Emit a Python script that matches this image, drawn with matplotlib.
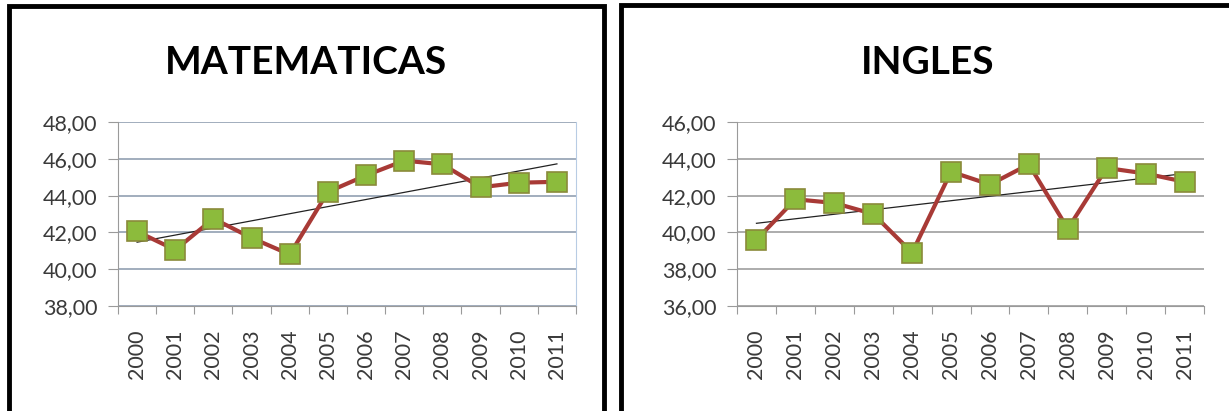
import numpy as np
import matplotlib
matplotlib.use('Agg')
import matplotlib.pyplot as plt
from matplotlib.patches import Rectangle

# данные
anios = ['2000', '2001', '2002', '2003', '2004', '2005',
         '2006', '2007', '2008', '2009', '2010', '2011']
matematicas = [42.05, 41.05, 42.75, 41.7, 40.8, 44.2,
               45.1, 45.9, 45.7, 44.45, 44.7, 44.75]
ingles = [39.6, 41.8, 41.6, 41.0, 38.9, 43.3,
          42.6, 43.7, 40.2, 43.5, 43.2, 42.75]

titulos = ['MATEMATICAS', 'INGLES']
ylims = [(38, 48), (36, 46)]

plt.rcParams['font.family'] = ['Lato', 'DejaVu Sans']

W, H = 1229, 411
fig = plt.figure(figsize=(W / 100, H / 100), dpi=100)


def fx(px):
    return px / W


def fy(py):
    return 1 - py / H


# рамки панелей
fig.patches.append(Rectangle((fx(9), fy(420)), fx(604 - 9), (420 - 6) / H,
                             transform=fig.transFigure, fill=False,
                             edgecolor='black', linewidth=3.5))
fig.patches.append(Rectangle((fx(621), fy(420)), fx(1240 - 621), (420 - 5) / H,
                             transform=fig.transFigure, fill=False,
                             edgecolor='black', linewidth=3.5))

ax1 = fig.add_axes([fx(118), fy(306), fx(576 - 118), (306 - 122) / H])
ax2 = fig.add_axes([fx(737), fy(306), fx(1204 - 737), (306 - 122) / H])

colores_grid = ['#9aa7b8', '#a6a6a6']
x = np.arange(len(anios))

for ax, datos, titulo, ylim, cg in zip([ax1, ax2], [matematicas, ingles],
                                       titulos, ylims, colores_grid):
    ax.set_xlim(-0.5, len(anios) - 0.5)
    ax.set_ylim(*ylim)
    yt = np.arange(ylim[0], ylim[1] + 0.1, 2)
    ax.set_yticks(yt)
    ax.set_yticklabels([('%.2f' % v).replace('.', ',') for v in yt])
    ax.yaxis.grid(True, color=cg, linewidth=1.3)
    ax.set_axisbelow(True)

    # линия тренда
    k, b = np.polyfit(x, datos, 1)
    ax.plot(x, k * x + b, color='#222222', linewidth=0.9, zorder=3)

    ax.plot(x, datos, color='#a83a36', linewidth=3, marker='s',
            markersize=14, markerfacecolor='#8cbb3c',
            markeredgecolor='#8a8a3a', markeredgewidth=1.2, zorder=4)

    # подписи лет по центру, деления по границам
    ax.set_xticks(np.arange(-0.5, len(anios), 1))
    ax.set_xticklabels([])
    ax.set_xticks(x, minor=True)
    ax.set_xticklabels(anios, minor=True, rotation=90, fontsize=15.5,
                       color='#3a3a3a')
    ax.tick_params(axis='x', which='minor', length=0, pad=17)
    ax.tick_params(axis='x', which='major', length=6, color='#9a9a9a')
    ax.tick_params(axis='y', length=7, color='#9a9a9a', labelsize=15.5,
                   labelcolor='#3a3a3a', pad=8)

    for s in ['left', 'bottom']:
        ax.spines[s].set_color('#9a9a9a')
    ax.spines['top'].set_visible(False)
    ax.spines['right'].set_visible(False)

ax1.spines['right'].set_visible(True)
ax1.spines['right'].set_color('#b8cce4')

fig.text(fx(306), fy(62), titulos[0], ha='center', va='center',
         fontsize=28, fontweight='bold')
fig.text(fx(928), fy(62), titulos[1], ha='center', va='center',
         fontsize=28, fontweight='bold')

fig.savefig('out.png', dpi=100)
